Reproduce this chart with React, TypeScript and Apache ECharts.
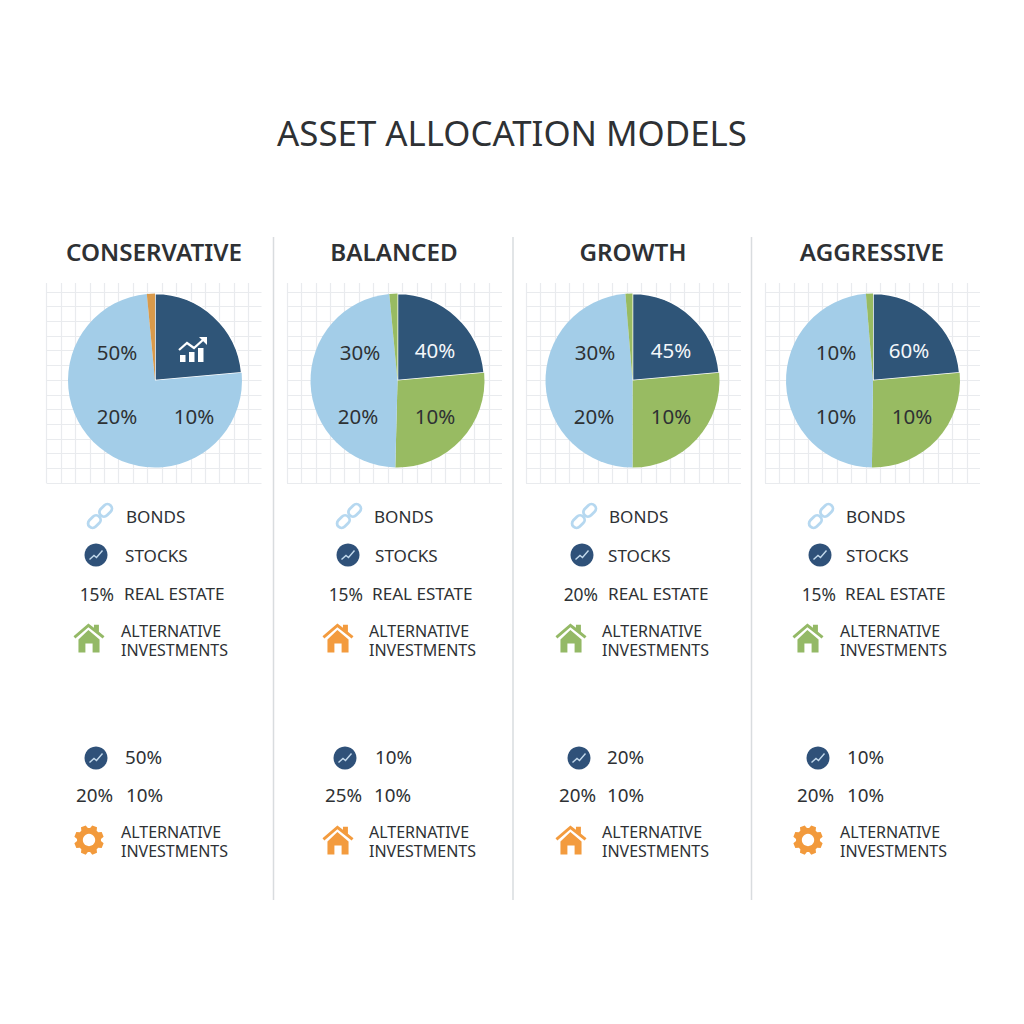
import React, { useEffect, useRef } from "react";
import * as echarts from "echarts";

const pageTitle = "ASSET ALLOCATION MODELS";
const modelNames = ["CONSERVATIVE", "BALANCED", "GROWTH", "AGGRESSIVE"];

// slice values
const conservativeSlices = [
  { name: "Stocks", value: 23.6, kind: "dark" },
  { name: "Bonds", value: 74.9, kind: "light" },
  { name: "Alternative", value: 1.5, kind: "orange" },
];
const balancedSlices = [
  { name: "Stocks", value: 23.6, kind: "dark" },
  { name: "Real estate", value: 26.8, kind: "green" },
  { name: "Bonds", value: 48.1, kind: "light" },
  { name: "Alternative", value: 1.5, kind: "green" },
];
const growthSlices = [
  { name: "Stocks", value: 23.6, kind: "dark" },
  { name: "Real estate", value: 26.4, kind: "green" },
  { name: "Bonds", value: 48.7, kind: "light" },
  { name: "Alternative", value: 1.3, kind: "green" },
];
const aggressiveSlices = [
  { name: "Stocks", value: 23.6, kind: "dark" },
  { name: "Real estate", value: 26.6, kind: "green" },
  { name: "Bonds", value: 48.5, kind: "light" },
  { name: "Alternative", value: 1.3, kind: "green" },
];
const modelSlices = [conservativeSlices, balancedSlices, growthSlices, aggressiveSlices];

// printed on the pies: top-left, top-right, bottom-left, bottom-right
const pieLabels = [
  ["50%", "", "20%", "10%"],
  ["30%", "40%", "20%", "10%"],
  ["30%", "45%", "20%", "10%"],
  ["10%", "60%", "10%", "10%"],
];
const legendPercents = ["15%", "15%", "20%", "15%"];
const lowerFirst = ["50%", "10%", "20%", "10%"];
const lowerLeft = ["20%", "25%", "20%", "20%"];
const lowerRight = ["10%", "10%", "10%", "10%"];
const upperIcon = ["house-green", "house-orange", "house-green", "house-green"];
const lowerIcon = ["gear", "house-orange", "house-orange", "gear"];

const colors: Record<string, string> = {
  dark: "#2f5578",
  light: "#a3cde8",
  green: "#98bb62",
  orange: "#d99a4b",
};
const INK = "#2e3134";
const FONT = '"Noto Sans", "Open Sans", sans-serif';

const pieCenterX = [155, 397.5, 632.5, 873];
const gridLeft = [46.5, 287, 526, 765];
const titleX = [154, 394, 633, 872];
const dividerX = [273.5, 513, 751.5];
const pieLabelX = [
  [117, 194, 117, 194],
  [360, 435, 358, 435],
  [595, 671, 594, 671],
  [836, 909, 836, 912],
];
const linkX = [100, 349, 584, 821];
const chartX = [96, 348, 582, 820];
const bondsX = [126, 374, 609, 846];
const stocksX = [125, 375, 608, 846];
const pctRightX = [114, 363, 598, 836];
const realEstateX = [124, 372, 608, 845];
const iconX = [89, 338, 571, 808];
const altX = [121, 369, 602, 840];
const lowerChartX = [96, 345, 579, 818];
const lowerFirstX = [125, 375, 607, 847];
const lowerLeftRightX = [113, 362, 596, 834];
const lowerRightX = [126, 374, 607, 847];

const HOUSE =
  "M12 0 L16.5 3.6 V1 H20.5 V6.8 L25 10.6 L23.5 12.4 L12 3.2 L1.5 12.4 L0 10.6 Z M4 13.2 L12 5.4 L21 13.2 V24 H15.4 V16.6 H9.6 V24 H4 Z";

const gearPath = () => {
  // outline only, the hole is a white circle on top
  const pts: string[] = [];
  for (let i = 0; i < 8; i++) {
    const a = (i * Math.PI) / 4 + Math.PI / 8;
    [
      [-0.3, 9.6],
      [-0.17, 12],
      [0.17, 12],
      [0.3, 9.6],
    ].forEach(([da, r]) => {
      pts.push(`${(12 + r * Math.cos(a + da)).toFixed(2)} ${(12 + r * Math.sin(a + da)).toFixed(2)}`);
    });
  }
  return "M" + pts.join(" L") + " Z";
};

const text = (t: string, x: number, y: number, size = 17.1, extra: any = {}) => ({
  type: "text",
  z: 20,
  style: {
    text: t,
    x,
    y,
    fill: INK,
    font: `400 ${size}px ${FONT}`,
    textAlign: "left",
    verticalAlign: "middle",
    ...extra,
  },
});

const chartBadge = (cx: number, cy: number) => [
  { type: "circle", z: 20, shape: { cx, cy, r: 11.5 }, style: { fill: "#2f5179" } },
  {
    type: "polyline",
    z: 21,
    shape: {
      points: [
        [cx - 6.5, cy + 4.5],
        [cx - 2, cy + 0.5],
        [cx + 0.5, cy + 2.5],
        [cx + 6.5, cy - 4.5],
      ],
    },
    style: { stroke: "#c3d9ec", lineWidth: 1.4, fill: "none" },
  },
];

const linkIcon = (cx: number, cy: number) => ({
  type: "group",
  x: cx,
  y: cy,
  rotation: Math.PI / 4,
  children: [-15, 1].map((x) => ({
    type: "rect",
    z: 20,
    shape: { x, y: -4.5, width: 14, height: 9, r: 4.5 },
    style: { fill: "none", stroke: "#b6d8f0", lineWidth: 2.8 },
  })),
});

const bigIcon = (name: string, cx: number, cy: number) => {
  if (name === "gear") {
    return [
      { type: "assetGear", z: 20, x: cx - 15, y: cy - 15, scaleX: 30 / 24, scaleY: 30 / 24, style: { fill: "#f29a3c" } },
      { type: "circle", z: 21, shape: { cx, cy, r: 6.2 }, style: { fill: "#ffffff" } },
    ];
  }
  const fill = name === "house-green" ? "#94b966" : "#f39b3e";
  return [
    { type: "assetHouse", z: 20, x: cx - 15.5, y: cy - 14.5, scaleX: 31 / 25, scaleY: 29 / 24, style: { fill } },
  ];
};

const growthGlyph = (cx: number, cy: number) => [
  ...[
    [-13, 5, 5],
    [-4, 2, 8],
    [5, -2, 12],
  ].map(([dx, dy, h]) => ({
    type: "rect",
    z: 20,
    shape: { x: cx + dx, y: cy + dy + 1, width: 5.5, height: h + 2 },
    style: { fill: "#ffffff" },
  })),
  {
    type: "polyline",
    z: 20,
    shape: {
      points: [
        [cx - 14, cy + 1],
        [cx - 6, cy - 6],
        [cx + 1, cy - 1],
        [cx + 11, cy - 10],
      ],
    },
    style: { stroke: "#ffffff", lineWidth: 2.2, fill: "none" },
  },
  {
    type: "polygon",
    z: 20,
    shape: {
      points: [
        [cx + 6, cy - 12],
        [cx + 14, cy - 12],
        [cx + 14, cy - 4],
      ],
    },
    style: { fill: "#ffffff" },
  },
];

const App: React.FC = () => {
  const chartRef = useRef<HTMLDivElement>(null);

  useEffect(() => {
    if (!chartRef.current) return;
    echarts.graphic.registerShape("assetHouse", echarts.graphic.extendPath(HOUSE, {}));
    echarts.graphic.registerShape("assetGear", echarts.graphic.extendPath(gearPath(), {}));
    const chart = echarts.init(chartRef.current, null, { renderer: "svg" });

    const elements: any[] = [text(pageTitle, 512, 132.5, 34.8, { textAlign: "center" })];

    dividerX.forEach((x) => {
      elements.push({
        type: "line",
        z: 5,
        shape: { x1: x, y1: 237, x2: x, y2: 900 },
        style: { stroke: "#d9dcdf", lineWidth: 1.5 },
      });
    });

    modelNames.forEach((name, i) => {
      elements.push(
        text(name, titleX[i], 251, 24.2, {
          textAlign: "center",
          font: `600 24.2px ${FONT}`,
        })
      );
      const labelY = [351.5, 349.5, 415.5, 415.5];
      pieLabels[i].forEach((t, k) => {
        if (!t) return;
        const onDark = k === 1;
        elements.push(
          text(t, pieLabelX[i][k], labelY[k], 20.5, {
            textAlign: "center",
            fill: onDark ? "#f4f7fa" : INK,
          })
        );
      });

      elements.push(linkIcon(linkX[i], 516));
      elements.push(...chartBadge(chartX[i], 555));
      elements.push(text("BONDS", bondsX[i], 516));
      elements.push(text("STOCKS", stocksX[i], 555));
      elements.push(text(legendPercents[i], pctRightX[i], 593.5, 17.4, { textAlign: "right" }));
      elements.push(text("REAL ESTATE", realEstateX[i], 593.5));
      elements.push(...bigIcon(upperIcon[i], iconX[i], 638));
      elements.push(text("ALTERNATIVE", altX[i], 631, 16));
      elements.push(text("INVESTMENTS", altX[i], 650, 16));

      elements.push(...chartBadge(lowerChartX[i], 758));
      elements.push(text(lowerFirst[i], lowerFirstX[i], 756.5, 18.8));
      elements.push(text(lowerLeft[i], lowerLeftRightX[i], 794.5, 18.8, { textAlign: "right" }));
      elements.push(text(lowerRight[i], lowerRightX[i], 794.5, 18.8));
      elements.push(...bigIcon(lowerIcon[i], iconX[i], 840));
      elements.push(text("ALTERNATIVE", altX[i], 832, 16));
      elements.push(text("INVESTMENTS", altX[i], 851, 16));
    });
    elements.push(...growthGlyph(193, 349));

    const splitLine = {
      show: true,
      showMinLine: true,
      showMaxLine: false,
      lineStyle: { color: "#e9ebee", width: 1.2 },
    };
    const hidden = { axisLine: { show: false }, axisTick: { show: false }, axisLabel: { show: false } };

    chart.setOption({
      animation: false,
      backgroundColor: "#ffffff",
      grid: gridLeft.map((left) => ({ left, top: 283, width: 215, height: 200 })),
      xAxis: gridLeft.map((_, i) => ({
        type: "value",
        gridIndex: i,
        min: 0,
        max: 14.9,
        interval: 1,
        splitLine,
        ...hidden,
      })),
      yAxis: gridLeft.map((_, i) => ({
        type: "value",
        gridIndex: i,
        min: 0,
        max: 13.6,
        interval: 1,
        splitLine,
        ...hidden,
      })),
      series: modelSlices.map((slices, i) => ({
        type: "pie",
        center: [pieCenterX[i], 380.5],
        radius: [0, 87],
        startAngle: 90,
        clockwise: true,
        silent: true,
        label: { show: false },
        labelLine: { show: false },
        data: slices.map((s) => ({
          name: s.name,
          value: s.value,
          itemStyle: {
            color: colors[s.kind],
            borderColor: s.kind === "dark" ? "#ffffff" : colors[s.kind],
            borderWidth: s.kind === "dark" ? 1.5 : 0,
          },
        })),
      })),
      graphic: { elements },
    });

    return () => {
      chart.dispose();
    };
  }, []);

  return (
    <div
      ref={chartRef}
      style={{ position: "absolute", left: 0, top: 0, width: "1024px", height: "1024px" }}
    ></div>
  );
};

export default App;
